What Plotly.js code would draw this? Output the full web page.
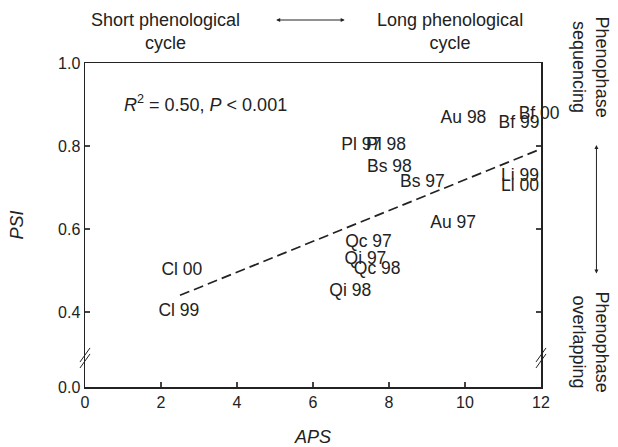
<!DOCTYPE html>
<html>
<head>
<meta charset="utf-8">
<script src="https://cdn.plot.ly/plotly-3.0.1.min.js"></script>
<style>html,body{margin:0;padding:0;background:#fff;}#chart{width:618px;height:447px;}</style>
</head>
<body>
<div id="chart"></div>
<script>
// Data
var labels = ['Cl 00','Cl 99','Qi 98','Qc 98','Qi 97','Qc 97','Au 97','Bs 97','Bs 98','Pl 97','Pl 98','Au 98','Bf 00','Bf 99','Li 99','Li 00'];
var aps    = [2.55, 2.47, 6.98, 7.69, 7.38, 7.46, 9.69, 8.88, 8.01, 7.27, 7.92, 9.96, 11.95, 11.42, 11.45, 11.45];
var psi    = [0.50, 0.40, 0.448, 0.501, 0.525, 0.566, 0.612, 0.711, 0.747, 0.80, 0.80, 0.867, 0.875, 0.855, 0.725, 0.701];
var fitX = [2.5, 12];
var fitY = [0.44, 0.793];
var xTickVals = [0, 2, 4, 6, 8, 10, 12];
var yTickVals = [0.219, 0.4, 0.6, 0.8, 1.0];
var yTickText = ['0.0', '0.4', '0.6', '0.8', '1.0'];
var yBreak = 0.289;

var font = 'Liberation Sans, Arial, Helvetica, sans-serif';
var fs = 16;   // tick labels
var fl = 17.5; // point labels
var fa = 18;   // annotations and titles

var traces = [
  {x: fitX, y: fitY, mode: 'lines', line: {color: '#222', width: 1.7, dash: '10px,5px'}, hoverinfo: 'skip'},
  {x: aps, y: psi, text: labels, mode: 'text', textposition: 'middle center',
   textfont: {family: font, size: fl, color: '#222'}, cliponaxis: false}
];

function brk(xp) {
  var s = [];
  [-3, 3].forEach(function (o) {
    s.push({type: 'line', xref: 'paper', xsizemode: 'pixel', xanchor: xp, x0: -5, x1: 5,
            yref: 'y', ysizemode: 'pixel', yanchor: yBreak, y0: o - 7, y1: o + 7,
            line: {color: '#222', width: 1}});
  });
  return s;
}

function note(x, y, text, extra) {
  var a = {xref: 'paper', yref: 'paper', x: x, y: y, xanchor: 'center', yanchor: 'middle',
           text: text, showarrow: false, font: {size: fa}};
  for (var k in extra) a[k] = extra[k];
  return a;
}

var layout = {
  width: 618, height: 447,
  margin: {l: 85, r: 76.5, t: 63, b: 60},
  paper_bgcolor: '#fff', plot_bgcolor: '#fff',
  showlegend: false,
  font: {family: font, size: fs, color: '#222'},
  xaxis: {range: [0, 12], tickvals: xTickVals, ticks: 'inside', ticklen: 5, tickwidth: 1.3,
          showline: true, linecolor: '#222', linewidth: 1.5, mirror: true, showgrid: false, zeroline: false,
          tickfont: {size: fs}, title: {text: '<i>APS</i>', font: {size: fa}, standoff: 20}},
  yaxis: {range: [0.219, 1.0], tickvals: yTickVals, ticktext: yTickText, ticks: 'inside', ticklen: 5, tickwidth: 1.3,
          showline: true, linecolor: '#222', linewidth: 1.5, mirror: 'ticks', showgrid: false, zeroline: false,
          tickfont: {size: fs}, title: {text: '<i>PSI</i>', font: {size: fa}, standoff: 29}},
  shapes: brk(0).concat(brk(1)),
  annotations: [
    note(0.265, 0.8765, '<i>R</i><sup>2</sup> = 0.50, <i>P</i> &lt; 0.001'),
    note(0.1774, 1.0957, 'Short phenological<br>cycle'),
    note(0.7996, 1.0957, 'Long phenological<br>cycle'),
    note(1.1084, 0.9877, 'Phenophase<br>sequencing', {textangle: 90}),
    note(1.1084, 0.1389, 'Phenophase<br>overlapping', {textangle: 90}),
    {xref: 'paper', yref: 'paper', x: 0.5695, y: 1.1327, ax: -70, ay: 0, text: '', showarrow: true,
     arrowhead: 2, startarrowhead: 2, arrowside: 'end+start', arrowsize: 0.8, startarrowsize: 0.8, arrowwidth: 1, arrowcolor: '#222'},
    {xref: 'paper', yref: 'paper', x: 1.1216, y: 0.7469, ax: 0, ay: 130, text: '', showarrow: true,
     arrowhead: 2, startarrowhead: 2, arrowside: 'end+start', arrowsize: 0.8, startarrowsize: 0.8, arrowwidth: 1, arrowcolor: '#222'}
  ]
};

Plotly.newPlot('chart', traces, layout, {displayModeBar: false, staticPlot: true});
</script>
</body>
</html>
